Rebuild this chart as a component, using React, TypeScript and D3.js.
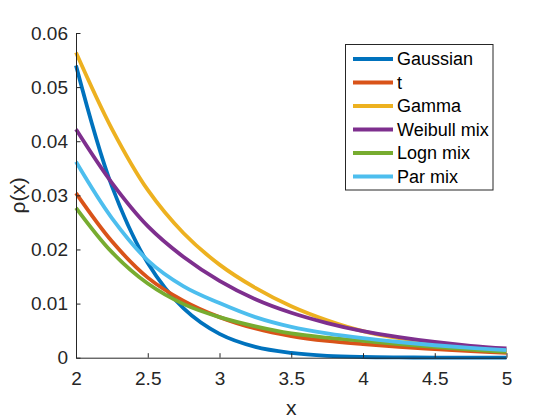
import React, { useEffect, useRef } from "react";
import * as d3 from "d3";

// x grid the densities are sampled on
const xs = [2, 2.25, 2.5, 2.75, 3, 3.25, 3.5, 3.75, 4, 4.25, 4.5, 4.75, 5];

const gaussian = [0.054, 0.0317, 0.0175, 0.0091, 0.0044, 0.002, 0.0009, 0.00035, 0.00013, 0.00005, 0.00002, 0.00001, 0.000004];
const tDist = [0.0304, 0.0215, 0.0148, 0.0105, 0.0075, 0.0054, 0.004, 0.0031, 0.0025, 0.002, 0.0016, 0.0012, 0.0009];
const gamma = [0.0564, 0.0423, 0.031, 0.023, 0.0172, 0.0129, 0.0095, 0.0069, 0.0049, 0.0036, 0.0027, 0.002, 0.0014];
const weibullMix = [0.0422, 0.0323, 0.0243, 0.0186, 0.0142, 0.0108, 0.0083, 0.0064, 0.0049, 0.0038, 0.0029, 0.0022, 0.0017];
const lognMix = [0.0277, 0.0195, 0.0137, 0.0099, 0.0075, 0.0058, 0.0045, 0.0037, 0.0031, 0.0025, 0.002, 0.0015, 0.0011];
const parMix = [0.0362, 0.0258, 0.018, 0.0132, 0.0101, 0.0075, 0.0057, 0.0045, 0.0036, 0.0029, 0.0023, 0.0018, 0.0014];

const seriesNames = ["Gaussian", "t", "Gamma", "Weibull mix", "Logn mix", "Par mix"];
const seriesValues = [gaussian, tDist, gamma, weibullMix, lognMix, parMix];
const colors = ["#0072BD", "#D95319", "#EDB120", "#7E2F8E", "#77AC30", "#4DBEEE"];

const xTicks = [2, 2.5, 3, 3.5, 4, 4.5, 5];
const yTicks = [0, 0.01, 0.02, 0.03, 0.04, 0.05, 0.06];

export default function App() {
  const svgRef = useRef<SVGSVGElement>(null);

  useEffect(() => {
    const width = 560;
    const height = 420;
    const left = 76;
    const right = 506.5;
    const top = 33;
    const bottom = 357.7;
    const font = "'Liberation Sans', Arial, sans-serif";
    const axisColor = "#262626";

    const svg = d3.select(svgRef.current);
    svg.selectAll("*").remove();
    svg.attr("width", width).attr("height", height);

    svg.append("rect").attr("width", width).attr("height", height).attr("fill", "#fff");

    const x = d3.scaleLinear().domain([2, 5]).range([left, right]);
    const y = d3.scaleLinear().domain([0, 0.06]).range([bottom, top]);

    // curves
    const line = d3
      .line<number>()
      .x((_, i) => x(xs[i]))
      .y((d) => y(d))
      .curve(d3.curveCatmullRom.alpha(0.5));

    svg
      .append("g")
      .selectAll("path")
      .data(seriesValues)
      .join("path")
      .attr("d", (d) => line(d))
      .attr("fill", "none")
      .attr("stroke", (_, i) => colors[i])
      .attr("stroke-width", 3.8)
      .attr("stroke-linejoin", "round");

    // axes: ticks point inward, no box
    const xAxis = svg
      .append("g")
      .attr("transform", `translate(0,${bottom})`)
      .call(d3.axisBottom(x).tickValues(xTicks).tickSizeInner(-4.5).tickSizeOuter(0).tickPadding(14).tickFormat(d3.format("")));
    const yAxis = svg
      .append("g")
      .attr("transform", `translate(${left},0)`)
      .call(d3.axisLeft(y).tickValues(yTicks).tickSizeInner(-4.5).tickSizeOuter(0).tickPadding(8).tickFormat((d) => (d === 0 ? "0" : d3.format(".2f")(d as number))));

    [xAxis, yAxis].forEach((g) => {
      g.select(".domain").attr("stroke", axisColor).attr("stroke-width", 1);
      g.selectAll(".tick line").attr("stroke", axisColor);
      g.selectAll(".tick text").attr("fill", axisColor).style("font", `19px ${font}`);
    });

    // axis labels
    svg
      .append("text")
      .attr("x", (left + right) / 2)
      .attr("y", 415)
      .attr("text-anchor", "middle")
      .attr("fill", axisColor)
      .style("font", `21px ${font}`)
      .text("x");

    svg
      .append("text")
      .attr("transform", `translate(25,${(top + bottom) / 2}) rotate(-90)`)
      .attr("text-anchor", "middle")
      .attr("fill", axisColor)
      .style("font", `21px ${font}`)
      .text("ρ(x)");

    // legend
    const legend = svg.append("g");
    legend
      .append("rect")
      .attr("x", 345.5)
      .attr("y", 44.5)
      .attr("width", 147.5)
      .attr("height", 145.5)
      .attr("fill", "#fff")
      .attr("stroke", axisColor)
      .attr("stroke-width", 1);

    const rows = legend
      .selectAll("g.row")
      .data(seriesNames)
      .join("g")
      .attr("class", "row")
      .attr("transform", (_, i) => `translate(0,${59 + i * 23.5})`);

    rows
      .append("line")
      .attr("x1", 353)
      .attr("x2", 393)
      .attr("stroke", (_, i) => colors[i])
      .attr("stroke-width", 3.8);

    rows
      .append("text")
      .attr("x", 397)
      .attr("dy", "0.35em")
      .attr("fill", "#000")
      .style("font", `18px ${font}`)
      .text((d) => d);
  }, []);

  return (
    <div style={{ position: "absolute", left: 0, top: 0 }}>
      <svg ref={svgRef} style={{ display: "block" }} />
    </div>
  );
}
